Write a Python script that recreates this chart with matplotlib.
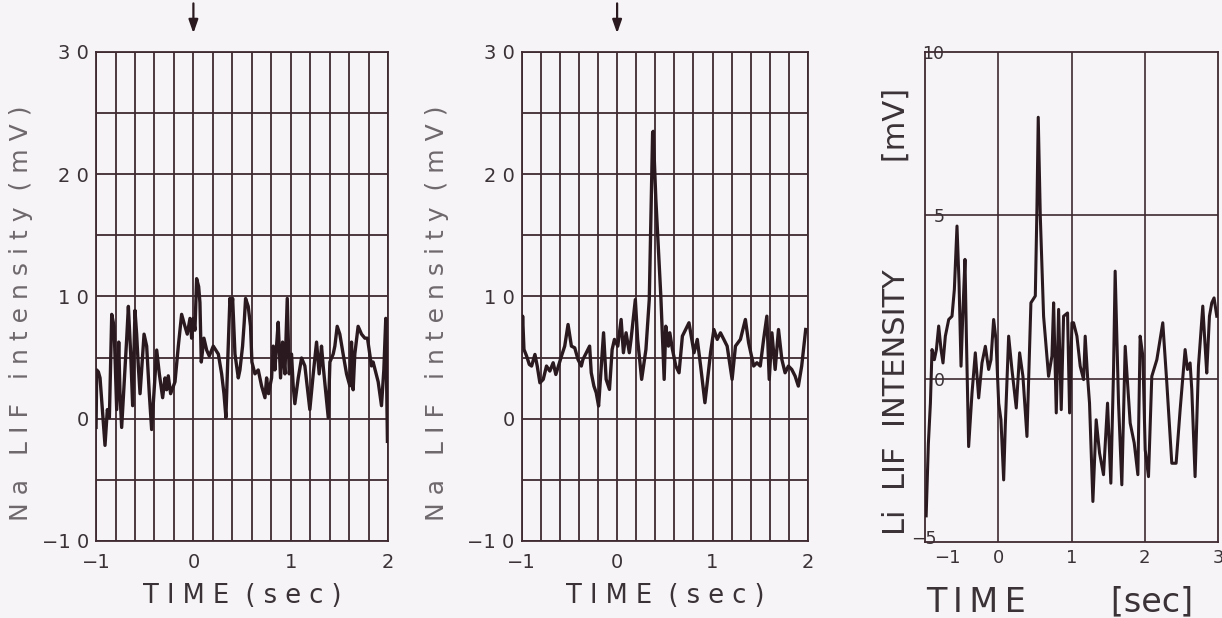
import matplotlib
matplotlib.use("Agg")
import matplotlib.pyplot as plt
import matplotlib.transforms as mtrans
import numpy as np

# ---------------- data ----------------
na1_t = [-1.000, -0.993, -0.976, -0.959, -0.908, -0.884, -0.863, -0.839, -0.815, -0.788,
         -0.767, -0.754, -0.737, -0.685, -0.668, -0.644, -0.624, -0.600, -0.583, -0.566,
         -0.548, -0.507, -0.480, -0.453, -0.429, -0.377, -0.350, -0.316, -0.292, -0.275,
         -0.258, -0.234, -0.189, -0.155, -0.121, -0.087, -0.063, -0.035, -0.018, -0.001,
         0.016, 0.033, 0.054, 0.067, 0.081, 0.108, 0.136, 0.163, 0.204, 0.256,
         0.290, 0.314, 0.334, 0.355, 0.375, 0.392, 0.403, 0.427, 0.461, 0.478,
         0.505, 0.522, 0.536, 0.563, 0.587, 0.601, 0.632, 0.666, 0.700, 0.735,
         0.752, 0.772, 0.803, 0.820, 0.837, 0.854, 0.871, 0.895, 0.916, 0.940,
         0.964, 0.984, 1.008, 1.025, 1.042, 1.077, 1.111, 1.145, 1.196, 1.231,
         1.265, 1.292, 1.316, 1.333, 1.385, 1.402, 1.436, 1.453, 1.477, 1.504,
         1.538, 1.573, 1.607, 1.624, 1.641, 1.658, 1.692, 1.727, 1.761, 1.788,
         1.829, 1.846, 1.898, 1.932, 1.956, 1.976, 1.993]
na1_v = [-0.71, 3.99, 3.83, 3.34, -2.18, 0.75, 0.10, 8.54, 7.56, 0.75,
         6.27, 2.05, -0.71, 6.59, 9.19, 5.29, 1.07, 8.86, 6.92, 4.32,
         2.05, 6.92, 5.94, 2.05, -0.88, 5.62, 3.67, 1.72, 3.34, 2.37,
         3.51, 2.05, 3.02, 5.94, 8.54, 7.56, 6.92, 8.21, 6.59, 8.21,
         7.24, 11.46, 10.81, 9.51, 4.64, 6.59, 5.62, 5.13, 5.94, 5.29,
         3.67, 2.05, 0.10, 5.29, 9.84, 8.86, 9.84, 5.29, 3.34, 3.99,
         5.94, 7.89, 9.84, 9.19, 7.56, 4.64, 3.67, 3.99, 2.69, 1.72,
         3.34, 2.05, 3.34, 5.94, 3.99, 5.94, 7.89, 3.34, 6.27, 3.67,
         9.84, 3.67, 5.29, 2.69, 1.23, 3.34, 4.97, 4.32, 0.75, 3.67,
         6.27, 3.67, 5.94, 4.32, 0.10, 4.64, 5.29, 5.94, 7.56, 6.92,
         5.29, 3.67, 2.69, 6.27, 2.37, 5.29, 7.56, 6.92, 6.59, 6.59,
         4.32, 4.64, 3.02, 1.07, 3.99, 8.21, -1.85]

na2_t = [-1.000, -0.990, -0.976, -0.948, -0.920, -0.896, -0.861, -0.837, -0.809, -0.774,
         -0.740, -0.705, -0.670, -0.642, -0.583, -0.549, -0.514, -0.479, -0.444, -0.410,
         -0.375, -0.358, -0.288, -0.271, -0.243, -0.219, -0.194, -0.142, -0.115, -0.080,
         -0.052, -0.028, 0.007, 0.042, 0.066, 0.094, 0.128, 0.146, 0.191, 0.215,
         0.257, 0.302, 0.337, 0.358, 0.372, 0.378, 0.406, 0.458, 0.493, 0.510,
         0.538, 0.552, 0.580, 0.615, 0.649, 0.684, 0.753, 0.806, 0.840, 0.875,
         0.920, 0.944, 0.979, 1.014, 1.049, 1.083, 1.118, 1.153, 1.205, 1.240,
         1.292, 1.344, 1.378, 1.431, 1.465, 1.500, 1.535, 1.569, 1.594, 1.622,
         1.656, 1.691, 1.726, 1.760, 1.795, 1.830, 1.865, 1.899, 1.934, 1.976]
na2_v = [5.94, 8.39, 5.67, 5.12, 4.44, 4.31, 5.26, 4.31, 2.94, 3.22,
         4.31, 3.90, 4.58, 3.62, 5.12, 5.94, 7.71, 5.94, 5.80, 4.85,
         4.31, 4.85, 5.94, 3.76, 2.67, 2.13, 1.04, 7.03, 3.22, 2.40,
         5.67, 6.49, 5.94, 8.12, 5.40, 7.03, 5.40, 6.49, 9.75, 6.49,
         3.22, 5.67, 9.75, 17.93, 23.38, 23.51, 17.93, 10.03, 3.22, 7.57,
         5.94, 7.03, 5.67, 4.31, 3.76, 6.76, 7.85, 5.40, 6.49, 4.31,
         1.31, 2.94, 5.40, 7.30, 6.49, 7.03, 6.49, 5.94, 3.22, 5.94,
         6.49, 8.12, 6.21, 4.31, 4.58, 4.31, 6.49, 8.39, 3.22, 7.03,
         4.03, 7.30, 4.85, 3.76, 4.31, 4.03, 3.49, 2.67, 4.31, 7.30]

li_t = [-0.985, -0.955, -0.927, -0.905, -0.873, -0.845, -0.814, -0.782, -0.755, -0.723,
        -0.677, -0.632, -0.600, -0.564, -0.536, -0.509, -0.482, -0.455, -0.436, -0.405,
        -0.359, -0.314, -0.268, -0.223, -0.177, -0.132, -0.100, -0.064, -0.032, 0.005,
        0.036, 0.073, 0.095, 0.141, 0.186, 0.245, 0.291, 0.336, 0.391, 0.445,
        0.505, 0.527, 0.545, 0.573, 0.618, 0.686, 0.732, 0.755, 0.791, 0.823,
        0.859, 0.891, 0.945, 0.973, 1.005, 1.027, 1.073, 1.118, 1.164, 1.186,
        1.218, 1.245, 1.291, 1.336, 1.382, 1.436, 1.491, 1.536, 1.573, 1.595,
        1.641, 1.686, 1.732, 1.764, 1.800, 1.855, 1.905, 1.936, 1.973, 2.005,
        2.050, 2.095, 2.164, 2.245, 2.300, 2.368, 2.427, 2.482, 2.550, 2.582,
        2.618, 2.641, 2.686, 2.732, 2.791, 2.823, 2.845, 2.882, 2.914, 2.945, 2.982]
li_v = [-4.20, -2.00, -0.75, 0.89, 0.58, 0.89, 1.61, 0.89, 0.48, 1.30,
        1.81, 1.91, 2.73, 4.67, 2.93, 0.38, 2.12, 3.65, 1.30, -2.08,
        -0.44, 0.79, -0.59, 0.48, 0.99, 0.28, 0.58, 1.81, 1.20, -0.75,
        -1.26, -3.10, -1.46, 1.30, 0.28, -0.90, 0.79, 0.07, -1.77, 2.32,
        2.53, 5.18, 8.00, 4.98, 1.91, 0.07, 0.69, 2.32, -1.05, 2.12,
        -0.95, 1.91, 2.01, -1.05, 1.71, 1.71, 1.30, 0.38, -0.03, 1.30,
        0.07, -0.75, -3.76, -1.26, -2.28, -2.94, -0.75, -3.20, 0.28, 3.29,
        -0.75, -3.25, 0.99, -0.13, -1.36, -1.97, -2.94, 1.30, 0.69, -2.18,
        -3.00, 0.07, 0.58, 1.71, -0.13, -2.59, -2.59, -0.95, 0.89, 0.28,
        0.48, -0.34, -3.00, 0.38, 2.22, 0.99, 0.17, 1.91, 2.32, 2.47, 1.91]

na_yticks = [-10, 0, 10, 20, 30]
na_yticklabels = ["\u22121 0", "0", "1 0", "2 0", "3 0"]
na_xticks = [-1, 0, 1, 2]
na_xticklabels = ["\u22121", "0", "1", "2"]
li_yticks = [-5, 0, 5, 10]
li_yticklabels = ["\u22125", "0", "5", "10"]
li_xticks = [-1, 0, 1, 2, 3]
li_xticklabels = ["\u22121", "0", "1", "2", "3"]

# ---------------- style ----------------
BG = "#f6f4f6"
GRID = "#3e2a30"
LINE = "#2a1a20"
TXT = "#3a3236"
YTXT = "#6e686c"

fig = plt.figure(figsize=(12.22, 6.18), dpi=100, facecolor=BG)

def na_panel(rect, t, v, ylab_x):
    ax = fig.add_axes(rect)
    ax.set_facecolor(BG)
    ax.set_xlim(-1, 2)
    ax.set_ylim(-10, 30)
    for x in np.arange(-1, 2.001, 0.2):
        ax.axvline(x, color=GRID, lw=1.3, zorder=1)
    for y in range(-10, 31, 5):
        ax.axhline(y, color=GRID, lw=1.3, zorder=1)
    for s in ax.spines.values():
        s.set_color(GRID)
        s.set_linewidth(1.3)
    ax.plot(t, v, color=LINE, lw=2.4, zorder=3)
    ax.set_yticks(na_yticks)
    ax.set_yticklabels(na_yticklabels, fontsize=14, color=TXT)
    ax.set_xticks(na_xticks)
    ax.set_xticklabels(na_xticklabels, fontsize=14, color=TXT)
    ax.tick_params(axis="y", length=0, pad=5)
    ax.tick_params(axis="x", length=0, pad=9)
    ax.set_xlabel("T I M E  ( s e c )", fontsize=18.5, color=TXT)
    ax.xaxis.set_label_coords(0.5, -0.085)
    ax.set_ylabel("N a   L I F   i n t e n s i t y  ( m V )", fontsize=18,
                  color=YTXT)
    ax.yaxis.set_label_coords(ylab_x, 0.465)
    ax.annotate("", xy=(0, 31.3), xytext=(0, 34.2), xycoords="data",
                annotation_clip=False,
                arrowprops=dict(arrowstyle="-|>,head_length=0.8,head_width=0.28",
                                color=LINE, lw=1.6))
    return ax

na_panel([0.0786, 0.1246, 0.2390, 0.7913], na1_t, na1_v, -0.215)
na_panel([0.4269, 0.1246, 0.2343, 0.7913], na2_t, na2_v, -0.255)

# Li panel
ax3 = fig.add_axes([0.757, 0.123, 0.2398, 0.7930])
ax3.set_facecolor(BG)
ax3.set_xlim(-1, 3)
ax3.set_ylim(-5, 10)
for x in [0, 1, 2]:
    ax3.axvline(x, color=GRID, lw=1.2, zorder=1)
for y in [0, 5]:
    ax3.axhline(y, color=GRID, lw=1.2, zorder=1)
for s in ax3.spines.values():
    s.set_color(GRID)
    s.set_linewidth(1.3)
ax3.plot(li_t, li_v, color=LINE, lw=2.2, zorder=3)
ax3.set_yticks(li_yticks)
ax3.set_yticklabels(li_yticklabels, fontsize=12.5, color=TXT)
ax3.set_xticks(li_xticks)
ax3.set_xticklabels(li_xticklabels, fontsize=13, color=TXT)
ax3.tick_params(axis="y", length=0, pad=-14)
ax3.tick_params(axis="x", length=0, pad=5)
# the printed labels sit a little right of the left frame line
xl = ax3.get_xticklabels()[0]
xl.set_transform(xl.get_transform() + mtrans.ScaledTranslation(22 / 100, 0, fig.dpi_scale_trans))
yl = ax3.get_yticklabels()[0]
yl.set_transform(yl.get_transform() + mtrans.ScaledTranslation(-8 / 100, 5 / 100, fig.dpi_scale_trans))
ax3.set_xlabel("T\u2009I\u2009M\u2009E        [sec]", fontsize=24, color=TXT)
ax3.xaxis.set_label_coords(0.46, -0.088)
ax3.set_ylabel("Li  LIF  INTENSITY           [mV]", fontsize=22, color=TXT)
ax3.yaxis.set_label_coords(-0.05, 0.47)

fig.savefig("out.png", dpi=100, facecolor=BG)
